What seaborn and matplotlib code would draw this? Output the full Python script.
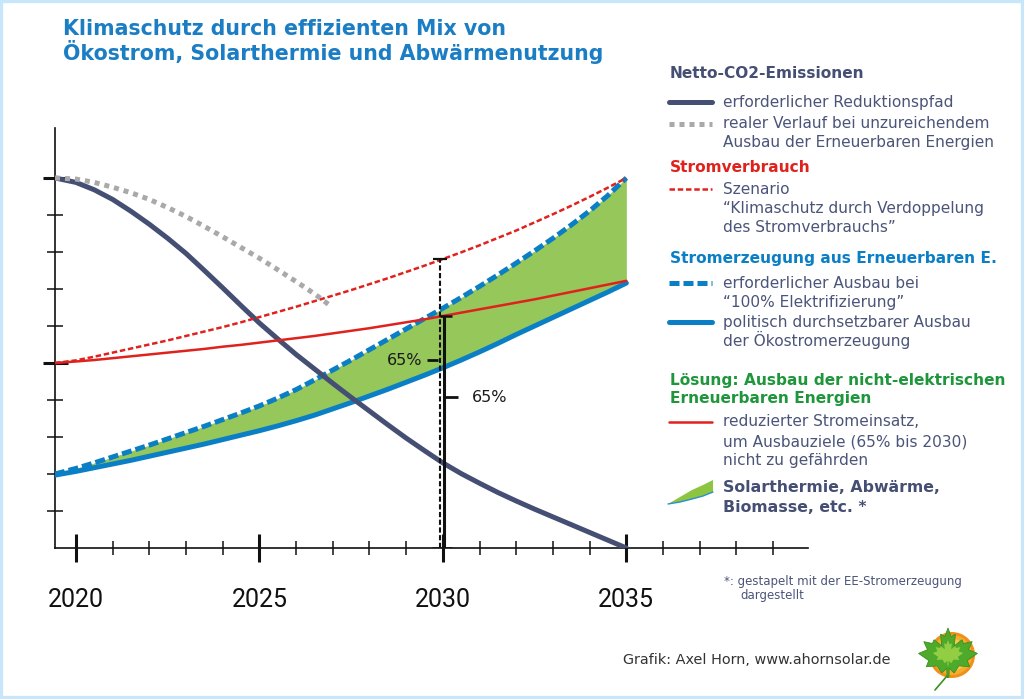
import numpy as np
import pandas as pd
import matplotlib
matplotlib.use("Agg")
import matplotlib.pyplot as plt
import seaborn as sns
from matplotlib.patches import Polygon, Circle, Rectangle

sns.set_style("white")
plt.rcParams['font.family'] = ['DejaVu Sans']

## data (x in years, y in axis units)
years = [2019.43, 2020, 2020.5, 2021, 2021.5, 2022, 2022.5, 2023, 2023.5, 2024, 2024.5,
         2025, 2025.5, 2026, 2026.5, 2027, 2027.5, 2028, 2028.5, 2029, 2029.5,
         2030, 2030.5, 2031, 2031.5, 2032, 2032.5, 2033, 2033.5, 2034, 2034.5, 2035]
co2_required = [10.0, 9.88, 9.68, 9.42, 9.1, 8.75, 8.37, 7.96, 7.5, 7.03, 6.55,
                6.08, 5.65, 5.23, 4.84, 4.45, 4.07, 3.7, 3.33, 2.97, 2.63,
                2.3, 2.01, 1.75, 1.5, 1.27, 1.05, 0.84, 0.63, 0.42, 0.21, 0.0]
co2_real_years = [2019.43, 2020, 2020.5, 2021, 2021.5, 2022, 2022.5, 2023, 2023.5,
                  2024, 2024.5, 2025, 2025.5, 2026, 2026.5, 2026.9]
co2_real = [10.0, 9.97, 9.88, 9.75, 9.6, 9.42, 9.2, 8.96, 8.69,
            8.41, 8.12, 7.83, 7.52, 7.2, 6.87, 6.57]
power_scenario = [5.0, 5.07, 5.17, 5.28, 5.39, 5.5, 5.61, 5.73, 5.85, 5.97, 6.1,
                  6.24, 6.38, 6.52, 6.67, 6.82, 6.97, 7.13, 7.29, 7.46, 7.63,
                  7.81, 7.99, 8.18, 8.38, 8.58, 8.8, 9.02, 9.25, 9.49, 9.74, 10.0]
power_reduced = [5.0, 5.04, 5.08, 5.13, 5.18, 5.23, 5.28, 5.33, 5.38, 5.44, 5.49,
                 5.55, 5.61, 5.67, 5.73, 5.8, 5.87, 5.94, 6.02, 6.1, 6.18,
                 6.27, 6.36, 6.45, 6.54, 6.63, 6.72, 6.82, 6.92, 7.02, 7.12, 7.22]
ee_required = [2.0, 2.15, 2.3, 2.46, 2.62, 2.78, 2.95, 3.12, 3.29, 3.47, 3.65,
               3.84, 4.05, 4.28, 4.54, 4.81, 5.08, 5.36, 5.64, 5.92, 6.2,
               6.48, 6.77, 7.07, 7.38, 7.7, 8.03, 8.37, 8.73, 9.11, 9.53, 10.0]
ee_feasible = [1.97, 2.07, 2.17, 2.27, 2.37, 2.48, 2.59, 2.7, 2.81, 2.93, 3.05,
               3.17, 3.3, 3.44, 3.59, 3.76, 3.93, 4.11, 4.29, 4.48, 4.67,
               4.87, 5.08, 5.3, 5.53, 5.77, 6.0, 6.23, 6.46, 6.69, 6.92, 7.16]
target_year = 2030
target_share = 0.65
tick_years = [2020, 2025, 2030, 2035]

df = pd.DataFrame({'year': years, 'co2': co2_required, 'scen': power_scenario,
                   'red': power_reduced, 'ee_req': ee_required, 'ee_pol': ee_feasible})
df_real = pd.DataFrame({'year': co2_real_years, 'co2': co2_real})

NAVY = '#454e73'
TXT = '#4b5479'
BLUE = '#0b7fc6'
TITLE_BLUE = '#1b7ec4'
RED = '#e0221e'
GREEN_FILL = '#95c75a'
GREEN_HEAD = '#1f963c'
GRAY = '#a9a9a9'

fig = plt.figure(figsize=(10.24, 6.99), dpi=100)
ax = fig.add_axes([55/1024, (699-548)/699, (808-55)/1024, (548-128)/699])
ax.set_facecolor('none')

ax.fill_between(df['year'], df['ee_pol'], df['ee_req'], color=GREEN_FILL, lw=0, zorder=1)
sns.lineplot(data=df, x='year', y='ee_pol', ax=ax, color=BLUE, linewidth=3.6,
             errorbar=None, zorder=3)
sns.lineplot(data=df, x='year', y='ee_req', ax=ax, color=BLUE, linewidth=3.6,
             linestyle=(0, (2.0, 0.8)), errorbar=None, zorder=3)
sns.lineplot(data=df, x='year', y='co2', ax=ax, color=NAVY, linewidth=3.6,
             errorbar=None, zorder=4)
sns.lineplot(data=df, x='year', y='red', ax=ax, color=RED, linewidth=1.8,
             errorbar=None, zorder=5)
sns.lineplot(data=df, x='year', y='scen', ax=ax, color=RED, linewidth=1.8,
             linestyle=(0, (2.2, 1.1)), errorbar=None, zorder=5)
sns.lineplot(data=df_real, x='year', y='co2', ax=ax, color=GRAY, linewidth=3.6,
             linestyle=(0, (1, 1)), errorbar=None, zorder=5)

# 65% markers at 2030
i30 = years.index(target_year)
scen30 = power_scenario[i30]
red30 = power_reduced[i30]
ax.vlines(target_year - 0.09, 0, scen30, colors='#111111', lw=1.5,
          linestyles=(0, (2.5, 1.2)), zorder=6)
ax.hlines(scen30, target_year - 0.28, target_year + 0.1, colors='#111111', lw=1.6, zorder=6)
ax.vlines(target_year + 0.02, 0, red30, colors='#111111', lw=2.2, zorder=6)
ax.hlines(red30, target_year - 0.08, target_year + 0.25, colors='#111111', lw=1.8, zorder=6)
ax.hlines(0, target_year - 0.3, target_year + 0.25, colors='#111111', lw=1.8, zorder=6)
ax.hlines(target_share * scen30, target_year - 0.44, target_year - 0.14,
          colors='#111111', lw=2, zorder=6)
ax.hlines(target_share * red30, target_year + 0.05, target_year + 0.4,
          colors='#111111', lw=2, zorder=6)
ax.text(target_year - 0.55, target_share * scen30, f'{target_share:.0%}', ha='right',
        va='center', fontsize=11.5, color='#1a1a1a')
ax.text(target_year + 0.8, target_share * red30, f'{target_share:.0%}', ha='left',
        va='center', fontsize=11.5, color='#1a1a1a')

ax.set_xlim(2019.43, 2039.95)
ax.set_ylim(0, 11.35)
ax.set_xlabel('')
ax.set_ylabel('')
ax.set_xticks(tick_years)
ax.set_xticklabels([str(y) for y in tick_years], fontsize=18, family='Roboto', color='#111111')
ax.set_xticks(range(2020, 2040), minor=True)
ax.set_yticks([5, 10])
ax.set_yticklabels([])
ax.set_yticks([1, 2, 3, 4, 6, 7, 8, 9], minor=True)
ax.tick_params(axis='x', which='major', direction='inout', length=20, width=2.2,
               color='#111111', pad=19)
ax.tick_params(axis='x', which='minor', direction='inout', length=10, width=1.1,
               color='#111111')
ax.tick_params(axis='y', which='major', direction='inout', length=18, width=2.2,
               color='#111111', left=True)
ax.tick_params(axis='y', which='minor', direction='inout', length=11, width=1.1,
               color='#111111', left=True)
ax.tick_params(axis='x', which='both', bottom=True)
for s in ['top', 'right']:
    ax.spines[s].set_visible(False)
for s in ['left', 'bottom']:
    ax.spines[s].set_color('#111111')
    ax.spines[s].set_linewidth(1.2)
ax.grid(False)

## overlay in pixel coordinates for title, legend, notes
ov = fig.add_axes([0, 0, 1, 1])
ov.set_xlim(0, 1024)
ov.set_ylim(699, 0)
ov.axis('off')

ov.text(63, 35, 'Klimaschutz durch effizienten Mix von', fontsize=14.8, fontweight='bold',
        color=TITLE_BLUE, va='baseline')
ov.text(63, 60, 'Ökostrom, Solarthermie und Abwärmenutzung', fontsize=14.8,
        fontweight='bold', color=TITLE_BLUE, va='baseline')

def key(y, **kw):
    ov.plot([669, 712], [y, y], **kw)

def lines(y0, rows, **kw):
    for k, r in enumerate(rows):
        ov.text(723, y0[k], r, fontsize=11.1, color=TXT, va='center', **kw)

HEAD = 11.1
ov.text(670, 74, 'Netto-CO2-Emissionen', fontsize=HEAD, fontweight='bold', color=NAVY, va='center')
key(102, color=NAVY, lw=3.6)
lines([102], ['erforderlicher Reduktionspfad'])
key(124, color=GRAY, lw=3.6, linestyle=(0, (1, 1)))
lines([124, 143], ['realer Verlauf bei unzureichendem', 'Ausbau der Erneuerbaren Energien'])

ov.text(670, 168, 'Stromverbrauch', fontsize=HEAD, fontweight='bold', color=RED, va='center')
key(189, color=RED, lw=1.8, linestyle=(0, (2.2, 1.1)))
lines([189, 209, 227], ['Szenario', '“Klimaschutz durch Verdoppelung', 'des Stromverbrauchs”'])

ov.text(670, 259, 'Stromerzeugung aus Erneuerbaren E.', fontsize=HEAD, fontweight='bold',
        color=BLUE, va='center')
key(283, color=BLUE, lw=3.6, linestyle=(0, (2.0, 0.8)))
lines([283, 303], ['erforderlicher Ausbau bei', '“100% Elektrifizierung”'])
key(322, color=BLUE, lw=3.6)
lines([322, 340], ['politisch durchsetzbarer Ausbau', 'der Ökostromerzeugung'])

ov.text(670, 380, 'Lösung: Ausbau der nicht-elektrischen', fontsize=HEAD, fontweight='bold',
        color=GREEN_HEAD, va='center')
ov.text(670, 399, 'Erneuerbaren Energien', fontsize=HEAD, fontweight='bold',
        color=GREEN_HEAD, va='center')
key(422, color=RED, lw=1.8)
lines([422, 442, 460], ['reduzierter Stromeinsatz,', 'um Ausbauziele (65% bis 2030)',
                        'nicht zu gefährden'])

wedge = [(668, 504), (680, 497), (692, 490), (703, 485), (713, 480),
         (713, 492), (703, 496), (692, 499), (680, 502)]
ov.add_patch(Polygon(wedge, closed=True, facecolor='#8cc540', edgecolor='none'))
ov.plot([668, 680, 692, 703, 713], [504, 502, 499, 496, 492], color='#2a8fd0', lw=1)
ov.text(723, 488, 'Solarthermie, Abwärme,', fontsize=11.3, fontweight='bold', color=NAVY, va='center')
ov.text(723, 507, 'Biomasse, etc. *', fontsize=11.3, fontweight='bold', color=NAVY, va='center')

ov.text(724, 582, '*: gestapelt mit der EE-Stromerzeugung', fontsize=8.5, color=TXT, va='center')
ov.text(740, 596, 'dargestellt', fontsize=8.5, color=TXT, va='center')

ov.text(623, 660, 'Grafik: Axel Horn, www.ahornsolar.de', fontsize=10.4, color='#333333', va='center')

# logo: sun with maple leaf
for r, c in [(23, '#f0901a'), (20, '#f5ad2c'), (16, '#f9c94c'), (11, '#fce27e')]:
    ov.add_patch(Circle((952, 655), r, facecolor=c, edgecolor='none'))
half = [(0.0, 1.0), (0.1, 0.72), (0.24, 0.8), (0.2, 0.42), (0.45, 0.62), (0.5, 0.5),
        (0.78, 0.56), (0.66, 0.3), (0.95, 0.18), (0.62, -0.05), (0.7, -0.25),
        (0.35, -0.22), (0.2, -0.45), (0.04, -0.3), (0.03, -0.6)]
leaf = half + [(-x, y) for x, y in reversed(half)]
ov.add_patch(Polygon([(948 + 31 * x, 659 - 31 * y) for x, y in leaf], closed=True,
                     facecolor='#4daa2a', edgecolor='#3c8f22', lw=0.6))
ov.add_patch(Polygon([(948 + 16 * x, 656 - 16 * y) for x, y in leaf], closed=True,
                     facecolor='#a6d64a', edgecolor='none', alpha=0.8))
ov.plot([947, 935], [676, 690], color='#3c8f22', lw=1.2)

fig.add_artist(Rectangle((0, 0), 1, 1, transform=fig.transFigure, fill=False,
                         edgecolor='#c8e6f9', lw=4.5, clip_on=False))

fig.savefig('out.png', dpi=100)
